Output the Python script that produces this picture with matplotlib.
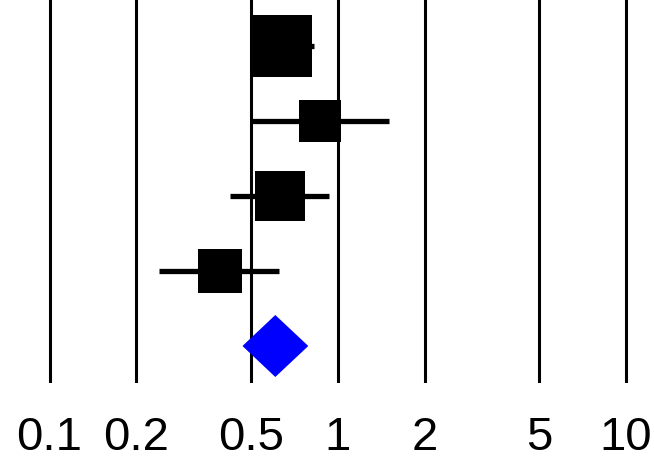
import numpy as np
import matplotlib
matplotlib.use("Agg")
import matplotlib.pyplot as plt
from matplotlib.patches import Polygon

# study estimates (odds ratios) and 95% CI
est = [0.637, 0.866, 0.629, 0.390]
lower = [0.50, 0.50, 0.424, 0.240]
upper = [0.829, 1.509, 0.935, 0.627]
weights = [37.9, 16.6, 25.6, 19.9]  # percent

# pooled estimate
pooled_est = 0.607
pooled_lower = 0.467
pooled_upper = 0.790

ticks = [0.1, 0.2, 0.5, 1, 2, 5, 10]
tick_labels = ["0.1", "0.2", "0.5", "1", "2", "5", "10"]

plt.rcParams['font.family'] = ['Liberation Sans', 'DejaVu Sans']

W, H = 654, 463
fig = plt.figure(figsize=(W / 100, H / 100), dpi=100)
ax = fig.add_axes([0, 1 - 383 / H, 1, 383 / H])

ax.set_xscale("log")
ax.set_xlim(10 ** (-1 - 49.5 / 288.3), 10 ** (-1 + (W - 49.5) / 288.3))
ax.set_ylim(1 - 37 / 75, 5 + 46 / 75)

for t in ticks:
    ax.axvline(t, color="black", lw=2.2, zorder=1)

n = len(est)
ys = np.arange(n + 1, 1, -1)
px_per_pt = 100 / 72
for y, e, lo, hi, w in zip(ys, est, lower, upper, weights):
    ax.plot([lo, hi], [y, y], color="black", lw=3.8, solid_capstyle="butt", zorder=2)
    side_px = 10.07 * np.sqrt(w)
    ax.plot([e], [y], marker="s", color="black", markersize=side_px / px_per_pt,
            markeredgewidth=0, zorder=3)

h = 31 / 75
diamond = Polygon([[pooled_lower, 1], [pooled_est, 1 + h], [pooled_upper, 1], [pooled_est, 1 - h]],
                  closed=True, facecolor="#0000ff", edgecolor="none", zorder=3)
ax.add_patch(diamond)

ax.set_xticks(ticks)
ax.set_xticklabels(tick_labels, fontsize=34)
ax.xaxis.set_minor_locator(matplotlib.ticker.NullLocator())
ax.tick_params(axis="x", length=0, pad=24)
ax.set_yticks([])
for s in ax.spines.values():
    s.set_visible(False)

fig.savefig("out.png", dpi=100)
